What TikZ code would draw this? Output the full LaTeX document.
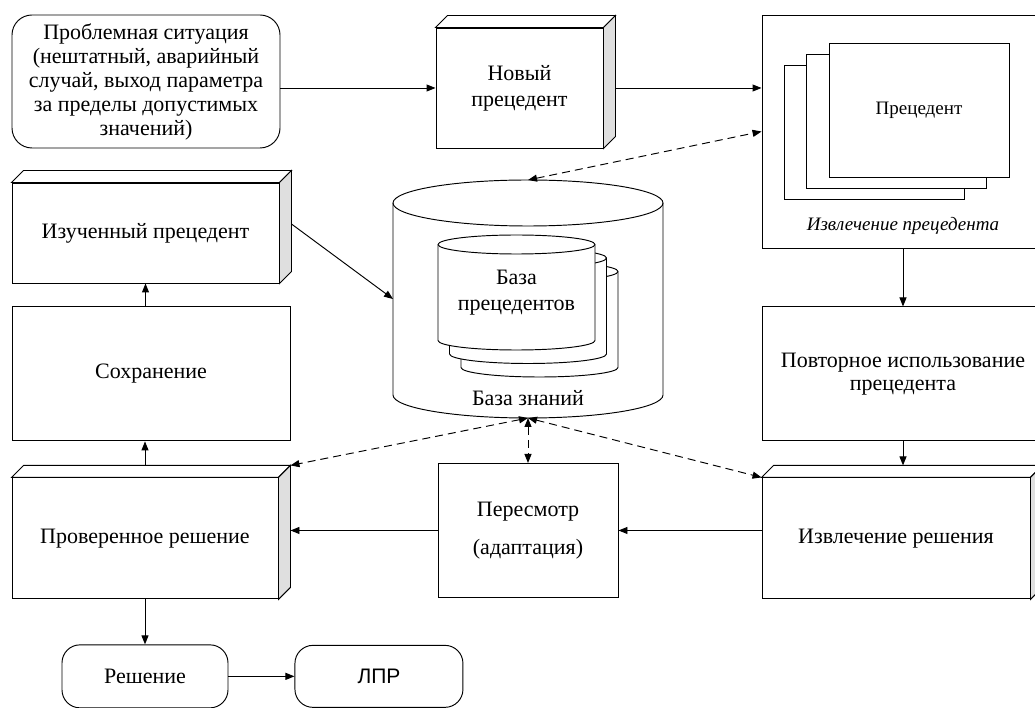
\documentclass[tikz,border=0pt]{standalone}
\usepackage{fontspec}
\setmainfont{Liberation Serif}
\newfontfamily\arialfont{Liberation Sans}
\usetikzlibrary{shapes.geometric, arrows.meta, positioning, backgrounds}
\tikzset{
  txt/.style={font=\fontsize{22}{24}\selectfont, align=center},
  blk/.style={txt, draw, line width=0.95pt, inner sep=2pt},
  rnd/.style={blk, rounded corners=20pt},
  db/.style={txt, outer sep=0pt, inner sep=0pt},
  arr/.style={-{Triangle[length=9pt,width=7pt]}, line width=0.95pt},
  darr/.style={{Triangle[length=9pt,width=7pt]}-{Triangle[length=9pt,width=7pt]},
               line width=0.95pt, dash pattern=on 8pt off 5pt}
}
% top and side face of a raised block
\newcommand{\depthface}[1]{%
  \filldraw[line width=0.95pt, fill=white] (#1.north west) -- ++(12pt,12pt)
    -- ([shift={(12pt,12pt)}]#1.north east) -- (#1.north east) -- cycle;
  \filldraw[line width=0.95pt, fill=gray!25] (#1.north east) -- ++(12pt,12pt)
    -- ([shift={(12pt,12pt)}]#1.south east) -- (#1.south east) -- cycle;
  \coordinate (#1-back) at ([yshift=12pt]#1.north);
  \coordinate (#1-side) at ([xshift=12pt]#1.east);
  \coordinate (#1-corner) at ([shift={(12pt,12pt)}]#1.north east);
}
% cylinder round a node: name, half width, cap radius
\newcommand{\drum}[3]{%
  \filldraw[line width=0.95pt, fill=white]
    ([yshift=-#3]#1.north west) -- ([yshift=#3]#1.south west)
    arc[start angle=180, end angle=360, x radius=#2, y radius=#3]
    -- ([yshift=-#3]#1.north east)
    arc[start angle=0, end angle=180, x radius=#2, y radius=#3] -- cycle;
  \draw[line width=0.95pt] ([yshift=-#3]#1.north west)
    arc[start angle=180, end angle=360, x radius=#2, y radius=#3];
}

\begin{document}
\begin{tikzpicture}[x=1pt, y=1pt]
  \useasboundingbox (0,0) rectangle (1035,707);
  \node[rnd, minimum width=268pt, minimum height=133pt] (prob) at (146,625.5)
    {Проблемная ситуация\\(нештатный, аварийный\\случай, выход параметра\\за пределы допустимых\\значений)};
  \node[blk, minimum width=167pt, minimum height=120pt] (new) at (519.5,619) {Новый\\[2pt]прецедент};
  \node[blk, minimum width=282pt, minimum height=233pt] (prec) at (903,575.5) {};
  \node[blk, fill=white, minimum width=180pt, minimum height=134pt] (sheet3) at ([shift={(-29pt,-1pt)}]prec.center) {};
  \node[blk, fill=white, minimum width=180pt, minimum height=134pt] (sheet2) at ([shift={(-6.5pt,10.5pt)}]prec.center) {};
  \node[blk, fill=white, minimum width=180pt, minimum height=134pt, font=\fontsize{19}{22}\selectfont] (sheet1) at ([shift={(16pt,21.5pt)}]prec.center) {Прецедент};
  \node[txt, font=\itshape\fontsize{19}{22}\selectfont, above=10pt of prec.south] (prectitle) {Извлечение прецедента};

  \node[db, minimum width=270pt, minimum height=238pt] (kb) at (528,408) {};
  \node[db, minimum width=157pt, minimum height=115pt] (cb3) at ([shift={(11.5pt,-20.5pt)}]kb.center) {};
  \node[db, minimum width=157pt, minimum height=115pt] (cb2) at ([shift={(0pt,-7pt)}]kb.center) {};
  \node[db, minimum width=157pt, minimum height=115pt, font=\fontsize{22}{25.5}\selectfont] (cb1) at ([shift={(-11.5pt,6.5pt)}]kb.center) {База\\прецедентов};
  \node[txt, above=9pt of kb.south] (kbname) {База знаний};
  \begin{scope}[on background layer]
    \drum{kb}{135pt}{23pt}
    \drum{cb3}{78.5pt}{9.5pt}
    \drum{cb2}{78.5pt}{9.5pt}
    \drum{cb1}{78.5pt}{9.5pt}
  \end{scope}

  \node[blk, minimum width=267pt, minimum height=100pt] (learn) at (145.5,474) {Изученный прецедент};
  \node[blk, minimum width=278pt, minimum height=134pt, below=23pt of learn.south west, anchor=north west] (save) {Сохранение};
  \node[blk, minimum width=266pt, minimum height=121pt, below=36pt of save.south west, anchor=north west] (checked) {Проверенное решение};
  \node[rnd, rounded corners=18pt, minimum width=166pt, minimum height=63pt, below=45pt of checked] (sol) {Решение};
  \node[rnd, rounded corners=18pt, minimum width=168pt, minimum height=62pt, right=66pt of sol,
        font=\arialfont\fontsize{21}{24}\selectfont] (dm) {ЛПР};

  \node[blk, minimum width=282pt, minimum height=134pt, below=58pt of prec] (reuse) {Повторное использование\\[-1pt]прецедента};
  \node[blk, minimum width=268pt, minimum height=121pt, below=36pt of reuse.south west, anchor=north west] (extract) {Извлечение решения};
  \node[blk, minimum width=180pt, minimum height=134pt, below=45pt of kb.south] (revise) {Пересмотр\\[14pt](адаптация)};

  \depthface{new}
  \depthface{learn}
  \depthface{checked}
  \depthface{extract}

  \draw[arr] (prob.east |- new.west) -- (new.west);
  \draw[arr] (new-side) -- (new-side -| prec.west);
  \draw[darr] (kb.north) -- (prec.west);
  \draw[arr] ([yshift=9pt]learn-side) -- (kb.west);
  \draw[arr] (save.north -| learn.south) -- (learn.south);
  \draw[arr] (checked-back) -- (checked-back |- save.south);
  \draw[arr] (checked.south) -- (sol.north);
  \draw[arr] (sol.east) -- (dm.west);
  \draw[arr] (prec.south) -- (reuse.north);
  \draw[arr] (reuse.south) -- (reuse.south |- extract-back);
  \draw[arr] (extract.west |- revise.east) -- (revise.east);
  \draw[arr] (revise.west) -- (revise.west -| checked-side);
  \draw[darr] (kb.south) -- (checked-corner);
  \draw[darr] (kb.south) -- (revise.north);
  \draw[darr] (kb.south) -- (extract.north west);
\end{tikzpicture}
\end{document}
